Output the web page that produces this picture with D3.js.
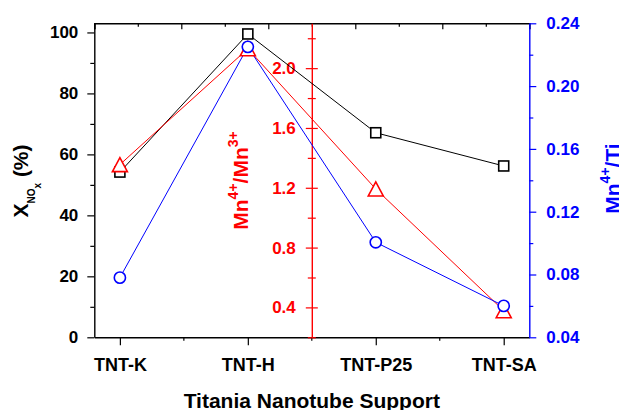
<!DOCTYPE html>
<html>
<head>
<meta charset="utf-8">
<script src="https://cdn.jsdelivr.net/npm/d3@7"></script>
<style>
  body { margin: 0; background: #fff; }
  svg text { font-family: "Liberation Sans", Arial, sans-serif; font-weight: bold; }
</style>
</head>
<body>
<script>
// data
var supports = ["TNT-K", "TNT-H", "TNT-P25", "TNT-SA"];
var xNOx = [54.2, 99.5, 67.1, 56.2];          // left axis, %
var mn4Mn3 = [1.355, 2.13, 1.192, 0.378];     // red middle axis
var mn4Ti = [0.078, 0.225, 0.1005, 0.06];     // blue right axis

var leftTicks = [0, 20, 40, 60, 80, 100];
var redTicks = [0.4, 0.8, 1.2, 1.6, 2.0];
var blueTicks = [0.04, 0.08, 0.12, 0.16, 0.20, 0.24];

var W = 619, H = 410;
var margin = {top: 23.3, right: 89.7, bottom: 72.7, left: 94.3};
var width = W - margin.left - margin.right,
    height = H - margin.top - margin.bottom;

var svg = d3.select("body").append("svg")
    .attr("width", W)
    .attr("height", H);

var g = svg.append("g")
    .attr("transform", "translate(" + margin.left + "," + margin.top + ")");

var x = d3.scalePoint().domain(supports).range([0, width]).padding(0.2);
var yL = d3.scaleLinear().domain([0, 103]).range([height, 0]);
var yR = d3.scaleLinear().domain([0.2, 2.3]).range([height, 0]);
var yB = d3.scaleLinear().domain([0.04, 0.24]).range([height, 0]);
var xTop = d3.scaleLinear().domain([0, 5]).range([0, width]);

function style(sel, color, size) {
    sel.selectAll("path.domain").attr("stroke", color).attr("stroke-width", 1.4);
    sel.selectAll(".tick line").attr("stroke", color).attr("stroke-width", 1.2);
    sel.selectAll(".tick text").attr("fill", color).style("font-size", size + "px");
}

// top axis (inward ticks, no labels)
var top1 = g.append("g").call(d3.axisTop(xTop).tickValues(d3.range(0, 6)).tickSize(-6).tickFormat(""));
style(top1, "#000", 17);
var top2 = g.append("g").call(d3.axisTop(xTop).tickValues(d3.range(0.5, 5, 1)).tickSize(-3.5).tickFormat(""));
style(top2, "#000", 17);
top2.select("path.domain").remove();

// bottom axis
var bot = g.append("g").attr("transform", "translate(0," + height + ")")
    .call(d3.axisBottom(x).tickSize(8).tickPadding(13).tickSizeOuter(0));
style(bot, "#000", 18);
var mids = d3.pairs(supports).map(function(p) { return (x(p[0]) + x(p[1])) / 2; });
g.append("g").selectAll("line").data(mids).enter().append("line")
    .attr("x1", function(d) { return d; }).attr("x2", function(d) { return d; })
    .attr("y1", height).attr("y2", height + 3.5)
    .attr("stroke", "#000").attr("stroke-width", 1.2);

// left axis
var left1 = g.append("g").call(d3.axisLeft(yL).tickValues(leftTicks).tickSize(7).tickPadding(9).tickSizeOuter(0));
style(left1, "#000", 17);
var left2 = g.append("g").call(d3.axisLeft(yL).tickValues(d3.range(10, 100, 20)).tickSize(4).tickFormat(""));
style(left2, "#000", 17);
left2.select("path.domain").remove();

// red middle axis, ticks cross the line
var red1 = g.append("g").attr("transform", "translate(" + (width / 2) + ",0)")
    .call(d3.axisLeft(yR).tickValues(redTicks).tickSize(6).tickPadding(10).tickSizeOuter(0).tickFormat(d3.format(".1f")));
style(red1, "#ff0000", 17);
red1.selectAll(".tick line").attr("x1", 6);
var red2 = g.append("g").attr("transform", "translate(" + (width / 2) + ",0)")
    .call(d3.axisLeft(yR).tickValues(d3.range(0.2, 2.25, 0.4)).tickSize(4).tickFormat(""));
style(red2, "#ff0000", 17);
red2.select("path.domain").remove();
red2.selectAll(".tick line").attr("x1", 4);

// blue right axis
var blue1 = g.append("g").attr("transform", "translate(" + width + ",0)")
    .call(d3.axisRight(yB).tickValues(blueTicks).tickSize(7).tickPadding(10).tickSizeOuter(0).tickFormat(d3.format(".2f")));
style(blue1, "#0000ff", 17);
var blue2 = g.append("g").attr("transform", "translate(" + width + ",0)")
    .call(d3.axisRight(yB).tickValues(d3.range(0.06, 0.23, 0.04)).tickSize(4).tickFormat(""));
style(blue2, "#0000ff", 17);
blue2.select("path.domain").remove();

// series lines
function series(vals, yScale) {
    return supports.map(function(s, i) { return [x(s), yScale(vals[i])]; });
}
var line = d3.line();
var sets = [
    {pts: series(xNOx, yL), color: "#000", shape: "square"},
    {pts: series(mn4Mn3, yR), color: "#ff0000", shape: "triangle"},
    {pts: series(mn4Ti, yB), color: "#0000ff", shape: "circle"}
];
sets.forEach(function(s) {
    g.append("path").attr("d", line(s.pts))
        .attr("fill", "none").attr("stroke", s.color).attr("stroke-width", 1);
});
sets.forEach(function(s) {
    var m = g.append("g").selectAll("g").data(s.pts).enter().append("g")
        .attr("transform", function(d) { return "translate(" + d[0] + "," + d[1] + ")"; });
    if (s.shape === "square") {
        m.append("rect").attr("x", -5).attr("y", -5).attr("width", 10).attr("height", 10);
    } else if (s.shape === "triangle") {
        m.append("path").attr("d", "M0,-7L7.5,7L-7.5,7Z");
    } else {
        m.append("circle").attr("r", 5.6);
    }
    m.selectAll("*").attr("fill", "#fff").attr("stroke", s.color).attr("stroke-width", 1.6);
});

// axis titles
svg.append("text")
    .attr("x", margin.left + width / 2).attr("y", 408)
    .attr("text-anchor", "middle").style("font-size", "21px")
    .text("Titania Nanotube Support");

var tL = svg.append("text")
    .attr("transform", "translate(28,181) rotate(-90)")
    .attr("text-anchor", "middle").style("font-size", "21px").attr("fill", "#000");
tL.append("tspan").text("X");
tL.append("tspan").attr("dy", 7).style("font-size", "10px").text("NO");
tL.append("tspan").attr("dy", 6).style("font-size", "10px").text("x");
tL.append("tspan").attr("dy", -13).text(" (%)");

var tR = svg.append("text")
    .attr("transform", "translate(248,180.5) rotate(-90)")
    .attr("text-anchor", "middle").style("font-size", "21px").attr("fill", "#ff0000");
tR.append("tspan").text("Mn");
tR.append("tspan").attr("dy", -10).style("font-size", "14px").text("4+");
tR.append("tspan").attr("dy", 10).text("/Mn");
tR.append("tspan").attr("dy", -10).style("font-size", "14px").text("3+");

var tB = svg.append("text")
    .attr("transform", "translate(620,178.5) rotate(-90)")
    .attr("text-anchor", "middle").style("font-size", "21px").attr("fill", "#0000ff");
tB.append("tspan").text("Mn");
tB.append("tspan").attr("dy", -10).style("font-size", "14px").text("4+");
tB.append("tspan").attr("dy", 10).text("/Ti");
</script>
</body>
</html>
